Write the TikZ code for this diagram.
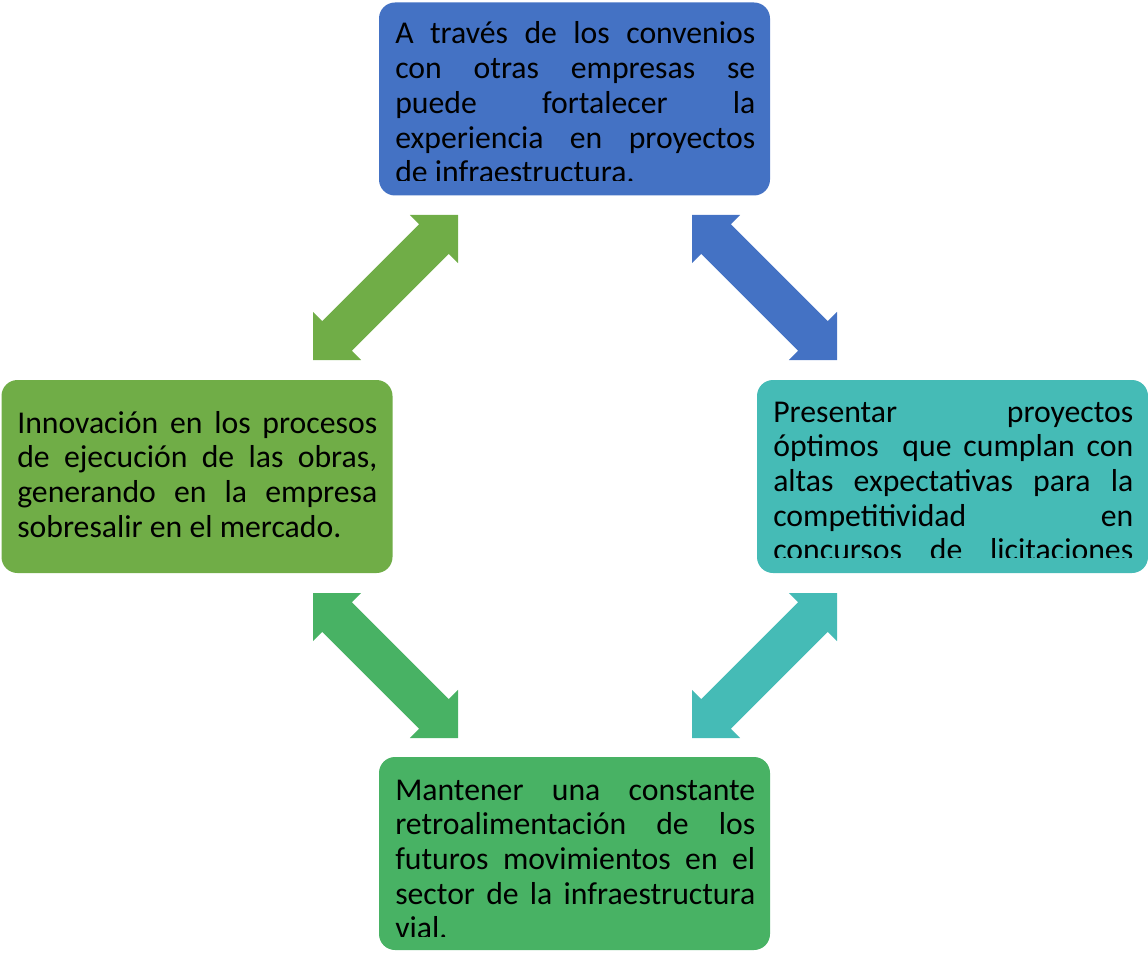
\documentclass[tikz,border=0pt]{standalone}
\usepackage{fontspec}
\setmainfont{Carlito}
\usetikzlibrary{calc}
\definecolor{cblue}{HTML}{4472C4}
\definecolor{cgreen}{HTML}{70AD47}
\definecolor{cteal}{HTML}{45BBB6}
\definecolor{cmint}{HTML}{48B264}
\tikzset{
  box/.style={rounded corners=12pt, minimum width=293.25pt, minimum height=144.75pt, inner sep=0pt, draw=none},
  ln/.style={anchor=base west, inner sep=0pt, font=\fontsize{23.8}{26}\selectfont, text=black},
  dbarrow/.pic={\fill[#1] (0pt,0pt) -- (25.5pt,25.5pt) -- (25.5pt,15.75pt) -- (128.3pt,15.75pt) -- (128.3pt,25.5pt) -- (153.8pt,0pt) -- (128.3pt,-25.5pt) -- (128.3pt,-15.75pt) -- (25.5pt,-15.75pt) -- (25.5pt,-25.5pt) -- cycle;}
}
\newcommand\jline[1]{\makebox[270pt][s]{#1}}
\begin{document}
\begin{tikzpicture}[x=0.75pt,y=-0.75pt]
\useasboundingbox (0,0) rectangle (1148,952);
% boxes
\node[box, fill=cblue] (top) at (574.5,99) {};
\node[box, fill=cgreen] (left) at (197,476.5) {};
\node[box, fill=cteal] (right) at (952.5,476.5) {};
\node[box, fill=cmint] (bottom) at (574.5,853.5) {};
% top text
\begin{scope}
\clip (top.north west) rectangle ($(top.south east)+(0,-15)$);
\node[ln] (t1) at (395,44) {\jline{A través de los convenios}};
\node[ln] (t2) at (395,78.7) {\jline{con otras empresas se}};
\node[ln] (t3) at (395,113.4) {\jline{puede fortalecer la}};
\node[ln] (t4) at (395,148.1) {\jline{experiencia en proyectos}};
\node[ln] (t5) at (395,182.8) {de infraestructura.};
\end{scope}
% left text
\node[ln] (l1) at (17,433) {\jline{Innovación en los procesos}};
\node[ln] (l2) at (17,467.7) {\jline{de ejecución de las obras,}};
\node[ln] (l3) at (17,502.3) {\jline{generando en la empresa}};
\node[ln] (l4) at (17,537) {sobresalir en el mercado.};
% right text
\begin{scope}
\clip (right.north west) rectangle ($(right.south east)+(0,-16)$);
\node[ln] (r1) at (773,422) {\jline{Presentar proyectos}};
\node[ln] (r2) at (773,456.7) {\jline{óptimos \ que cumplan con}};
\node[ln] (r3) at (773,491.3) {\jline{altas expectativas para la}};
\node[ln] (r4) at (773,526) {\jline{competitividad en}};
\node[ln] (r5) at (773,560.7) {\jline{concursos de licitaciones}};
\end{scope}
% bottom text
\begin{scope}
\clip (bottom.north west) rectangle ($(bottom.south east)+(0,-14)$);
\node[ln] (b1) at (395,800) {\jline{Mantener una constante}};
\node[ln] (b2) at (395,834.7) {\jline{retroalimentación de los}};
\node[ln] (b3) at (395,869.3) {\jline{futuros movimientos en el}};
\node[ln] (b4) at (395,904) {\jline{sector de la infraestructura}};
\node[ln] (b5) at (395,938.7) {vial.};
\end{scope}
% arrow end points
\coordinate (a1s) at (313,360); \coordinate (a1e) at (458,215);
\coordinate (a2s) at (692,215); \coordinate (a2e) at (837,360);
\coordinate (a3s) at (313,593); \coordinate (a3e) at (458,738);
\coordinate (a4s) at (692,738); \coordinate (a4e) at (837,593);
\path let \p1=($(a1e)-(a1s)$), \n1={atan2(\y1,\x1)} in pic[rotate=\n1] at (a1s) {dbarrow=cgreen};
\path let \p1=($(a2e)-(a2s)$), \n1={atan2(\y1,\x1)} in pic[rotate=\n1] at (a2s) {dbarrow=cblue};
\path let \p1=($(a3e)-(a3s)$), \n1={atan2(\y1,\x1)} in pic[rotate=\n1] at (a3s) {dbarrow=cmint};
\path let \p1=($(a4e)-(a4s)$), \n1={atan2(\y1,\x1)} in pic[rotate=\n1] at (a4s) {dbarrow=cteal};
\end{tikzpicture}
\end{document}
